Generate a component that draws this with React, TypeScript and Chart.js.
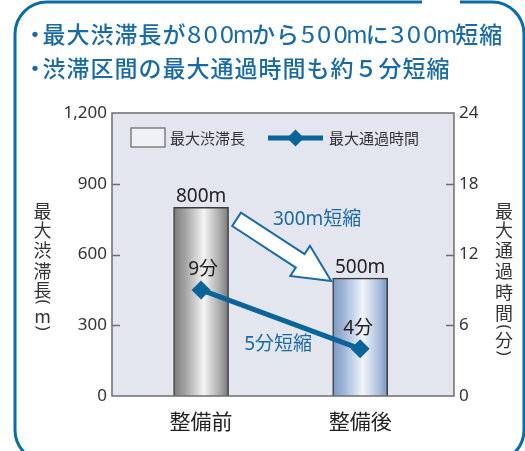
import { useEffect, useRef } from 'react';
import { Chart, registerables } from 'chart.js';

Chart.register(...registerables);

// ---- data ----
const categories = ['整備前', '整備後'];
const congestionLength = [800, 500]; // 最大渋滞長 (m)
const travelTime = [9, 4]; // 最大通過時間 (分)
const leftTicks = [0, 300, 600, 900, 1200];
const rightTicks = [0, 6, 12, 18, 24];
const titleLine1 = '最大渋滞長が800mから500mに300m短縮';
const titleLine2 = '渋滞区間の最大通過時間も約５分短縮';
const legendBarLabel = '最大渋滞長';
const legendLineLabel = '最大通過時間';
const leftAxisTitle = ['最', '大', '渋', '滞', '長', '(', 'm', ')'];
const rightAxisTitle = ['最', '大', '通', '過', '時', '間', '(', '分', ')'];
const arrowLabel = '300m短縮';
const lineLabel = '5分短縮';

const W = 525;
const H = 451;
const BLUE = '#1a6aa5';
const LINE_BLUE = '#0b6499';
const CJK = '"Noto Sans CJK JP"';
const NUM = '"Noto Sans", "Noto Sans CJK JP"';
const X_MIN = -0.56;
const X_MAX = 1.59;

function drawSpaced(ctx: CanvasRenderingContext2D, text: string, x: number, y: number, full: number, half: number) {
  let cx = x;
  const baseFont = ctx.font;
  for (const ch of Array.from(text)) {
    const isHalf = ch.charCodeAt(0) < 0x2000;
    const adv = isHalf ? half : full;
    ctx.save();
    ctx.translate(cx + adv / 2, y);
    if (isHalf && ch !== 'm') ctx.scale(1.12, 1);
    if (isHalf) ctx.font = `400 23px ${CJK}`;
    ctx.fillText(ch, 0, 0);
    ctx.font = baseFont;
    ctx.restore();
    cx += adv;
  }
}

function drawVertical(ctx: CanvasRenderingContext2D, chars: string[], ys: number[], x: number) {
  chars.forEach((ch, i) => {
    ctx.save();
    ctx.translate(x, ys[i]);
    if (ch === '(' || ch === ')') {
      ctx.rotate(Math.PI / 2);
      ctx.font = `17px ${NUM}`;
      ctx.fillText(ch, 0, 0);
    } else {
      ctx.fillText(ch, 0, 0);
    }
    ctx.restore();
  });
}

function roundRectPath(ctx: CanvasRenderingContext2D, x: number, y: number, w: number, h: number, r: number) {
  ctx.beginPath();
  ctx.moveTo(x + r, y);
  ctx.lineTo(x + w - r, y);
  ctx.arcTo(x + w, y, x + w, y + r, r);
  ctx.lineTo(x + w, y + h - r);
  ctx.arcTo(x + w, y + h, x + w - r, y + h, r);
  ctx.lineTo(x + r, y + h);
  ctx.arcTo(x, y + h, x, y + h - r, r);
  ctx.lineTo(x, y + r);
  ctx.arcTo(x, y, x + r, y, r);
  ctx.closePath();
}

const barStops = [
  ['#7c7c7c', '#a0a0a0', '#f4f4f4', '#a6a6a6', '#7a7a7a'],
  ['#7b98c3', '#9fb5d6', '#f2f5fa', '#a9bcda', '#7895c1'],
];

const decorPlugin = {
  id: 'decor',
  beforeDraw(chart: any) {
    const ctx: CanvasRenderingContext2D = chart.ctx;
    const ca = chart.chartArea;
    ctx.save();
    ctx.fillStyle = '#ffffff';
    ctx.fillRect(0, 0, W, H);
    // frame
    ctx.strokeStyle = '#0d6ba6';
    ctx.lineWidth = 3;
    roundRectPath(ctx, 15, 2, 509, 460, 32);
    ctx.stroke();
    ctx.fillStyle = '#ffffff';
    ctx.fillRect(422, 0, 38, 6);
    // title
    ctx.fillStyle = BLUE;
    ctx.textBaseline = 'middle';
    ctx.textAlign = 'center';
    ctx.font = `500 23px ${CJK}`;
    ctx.fillText('・', 35, 34);
    ctx.fillText('・', 35, 68);
    drawSpaced(ctx, titleLine1, 42, 34, 24, 16.4);
    drawSpaced(ctx, titleLine2, 42, 68, 24, 16.4);
    // plot background
    ctx.fillStyle = '#e4e6ef';
    ctx.fillRect(ca.left, ca.top, ca.right - ca.left, ca.bottom - ca.top);
    ctx.restore();
  },
  beforeDatasetsDraw(chart: any) {
    const ctx: CanvasRenderingContext2D = chart.ctx;
    chart.data.datasets.forEach((ds: any, di: number) => {
      if (ds.type !== 'bar') return;
      const meta = chart.getDatasetMeta(di);
      meta.data.forEach((el: any, i: number) => {
        const half = el.width / 2;
        if (!isFinite(el.x) || !isFinite(half)) return;
        const g = ctx.createLinearGradient(el.x - half, 0, el.x + half, 0);
        const s = barStops[i % barStops.length];
        g.addColorStop(0, s[0]);
        g.addColorStop(0.2, s[1]);
        g.addColorStop(0.55, s[2]);
        g.addColorStop(0.85, s[3]);
        g.addColorStop(1, s[4]);
        el.options = Object.assign({}, el.options, { backgroundColor: g });
      });
    });
  },
  afterDraw(chart: any) {
    const ctx: CanvasRenderingContext2D = chart.ctx;
    const ca = chart.chartArea;
    const xs = chart.scales.x;
    const ys = chart.scales.y;
    const y2 = chart.scales.y2;
    ctx.save();
    // plot frame
    ctx.strokeStyle = '#6e6e6e';
    ctx.lineWidth = 1.5;
    ctx.strokeRect(ca.left, ca.top, ca.right - ca.left, ca.bottom - ca.top);
    // inward tick marks
    ctx.beginPath();
    leftTicks.slice(1, -1).forEach((v) => {
      const py = Math.round(ys.getPixelForValue(v)) + 0.5;
      ctx.moveTo(ca.left, py);
      ctx.lineTo(ca.left + 8, py);
    });
    rightTicks.slice(1, -1).forEach((v) => {
      const py = Math.round(y2.getPixelForValue(v)) + 0.5;
      ctx.moveTo(ca.right - 8, py);
      ctx.lineTo(ca.right, py);
    });
    ctx.stroke();

    // legend
    const lx = ca.left + 19;
    const ly = ca.top + 25;
    ctx.fillStyle = '#eef0f6';
    ctx.fillRect(lx, ly - 10, 34, 19);
    ctx.strokeStyle = '#666';
    ctx.lineWidth = 1.2;
    ctx.strokeRect(lx, ly - 10, 34, 19);
    ctx.fillStyle = '#333';
    ctx.font = `15px ${CJK}`;
    ctx.textAlign = 'left';
    ctx.textBaseline = 'middle';
    ctx.fillText(legendBarLabel, lx + 39, ly);
    ctx.strokeStyle = LINE_BLUE;
    ctx.lineWidth = 5;
    ctx.beginPath();
    ctx.moveTo(lx + 137, ly);
    ctx.lineTo(lx + 192, ly);
    ctx.stroke();
    ctx.fillStyle = LINE_BLUE;
    ctx.beginPath();
    const dx = lx + 164.5;
    ctx.moveTo(dx, ly - 8.5);
    ctx.lineTo(dx + 8.5, ly);
    ctx.lineTo(dx, ly + 8.5);
    ctx.lineTo(dx - 8.5, ly);
    ctx.closePath();
    ctx.fill();
    ctx.fillStyle = '#333';
    ctx.fillText(legendLineLabel, lx + 198, ly);

    // axis titles (vertical)
    ctx.fillStyle = '#333';
    ctx.font = `18px ${CJK}`;
    ctx.textAlign = 'center';
    drawVertical(ctx, leftAxisTitle, [211, 230, 250, 271, 290, 302, 316, 328], 42.5);
    ctx.font = `18px ${CJK}`;
    drawVertical(ctx, rightAxisTitle, [211, 230, 250, 271, 292, 313, 327, 340, 353], 504);

    // arrow
    const x0 = xs.getPixelForValue(0);
    const x1 = xs.getPixelForValue(1);
    const tail = { x: x0 + 35.5, y: ys.getPixelForValue(congestionLength[0]) + 12 };
    const tip = { x: x1 - 29, y: ys.getPixelForValue(congestionLength[1]) + 3 };
    const len = Math.hypot(tip.x - tail.x, tip.y - tail.y);
    const ux = (tip.x - tail.x) / len;
    const uy = (tip.y - tail.y) / len;
    const nx = -uy;
    const ny = ux;
    const headLen = 37;
    const bx = tip.x - ux * headLen;
    const by = tip.y - uy * headLen;
    const sw = 8;
    const hw = 18;
    ctx.beginPath();
    ctx.moveTo(tail.x + nx * sw, tail.y + ny * sw);
    ctx.lineTo(bx + nx * sw, by + ny * sw);
    ctx.lineTo(bx + nx * hw, by + ny * hw);
    ctx.lineTo(tip.x, tip.y);
    ctx.lineTo(bx - nx * hw, by - ny * hw);
    ctx.lineTo(bx - nx * sw, by - ny * sw);
    ctx.lineTo(tail.x - nx * sw, tail.y - ny * sw);
    ctx.closePath();
    ctx.fillStyle = '#ffffff';
    ctx.fill();
    ctx.strokeStyle = BLUE;
    ctx.lineWidth = 2;
    ctx.lineJoin = 'miter';
    ctx.stroke();

    // value labels
    ctx.fillStyle = '#222';
    ctx.font = `19px ${NUM}`;
    ctx.textAlign = 'center';
    ctx.textBaseline = 'middle';
    ctx.fillText(`${congestionLength[0]}m`, x0, ys.getPixelForValue(congestionLength[0]) - 11);
    ctx.fillText(`${congestionLength[1]}m`, x1, ys.getPixelForValue(congestionLength[1]) - 10);
    ctx.fillText(`${travelTime[0]}分`, x0 + 2, y2.getPixelForValue(travelTime[0]) - 20);
    ctx.fillText(`${travelTime[1]}分`, x1 - 2, y2.getPixelForValue(travelTime[1]) - 20);
    ctx.fillStyle = BLUE;
    const mid = (x0 + x1) / 2;
    ctx.fillText(arrowLabel, mid + 36.5, ys.getPixelForValue(congestionLength[0]) + 12);
    ctx.fillText(lineLabel, mid - 2.5, y2.getPixelForValue(travelTime[1]) - 4);
    ctx.restore();
  },
};

export default function App() {
  const ref = useRef<HTMLCanvasElement | null>(null);
  useEffect(() => {
    if (!ref.current) return;
    const chart = new Chart(ref.current, {
      data: {
        datasets: [
          {
            type: 'line',
            label: legendLineLabel,
            data: travelTime.map((v, i) => ({ x: i, y: v })),
            xAxisID: 'x',
            yAxisID: 'y2',
            borderColor: LINE_BLUE,
            backgroundColor: LINE_BLUE,
            borderWidth: 5,
            pointStyle: 'rectRot',
            pointRadius: 9.5,
            pointBorderWidth: 0,
            pointBackgroundColor: LINE_BLUE,
            order: 0,
          },
          {
            type: 'bar',
            label: legendBarLabel,
            data: congestionLength.map((v, i) => ({ x: i, y: v })),
            xAxisID: 'x',
            yAxisID: 'y',
            barThickness: 55,
            borderColor: '#3c3c3c',
            borderWidth: 1.5,
            borderSkipped: 'bottom',
            backgroundColor: (c: any) => (c.dataIndex === 0 ? '#a0a0a0' : '#a9bcda'),
            order: 1,
          },
        ] as any,
      },
      options: {
        responsive: false,
        animation: false,
        events: [],
        layout: { padding: { top: 113, left: 0, right: 0, bottom: 0 } },
        plugins: { legend: { display: false }, tooltip: { enabled: false } },
        scales: {
          x: {
            type: 'linear',
            min: X_MIN,
            max: X_MAX,
            offset: false,
            bounds: 'data',
            afterDataLimits: (s: any) => {
              s.min = X_MIN;
              s.max = X_MAX;
            },
            afterBuildTicks: (s: any) => {
              s.ticks = categories.map((_, i) => ({ value: i }));
              s.min = X_MIN;
              s.max = X_MAX;
            },
            afterFit: (s: any) => {
              s.height = 55;
            },
            ticks: {
              callback: (v: any) => categories[v] ?? '',
              font: { family: CJK, size: 21 },
              color: '#222',
              padding: 12,
              autoSkip: false,
              maxRotation: 0,
            },
            grid: { display: false, drawTicks: false, offset: false },
            border: { display: false },
          },
          y: {
            position: 'left',
            min: 0,
            max: 1200,
            afterBuildTicks: (s: any) => {
              s.ticks = leftTicks.map((v) => ({ value: v }));
            },
            afterFit: (s: any) => {
              s.width = 112;
            },
            ticks: {
              callback: (v: any) => Number(v).toLocaleString('en-US'),
              font: { family: NUM, size: 17 },
              color: '#333',
              padding: 5,
            },
            grid: { display: false, drawTicks: false },
            border: { display: false },
          },
          y2: {
            position: 'right',
            min: 0,
            max: 24,
            afterBuildTicks: (s: any) => {
              s.ticks = rightTicks.map((v) => ({ value: v }));
            },
            afterFit: (s: any) => {
              s.width = 71;
            },
            ticks: {
              font: { family: NUM, size: 17 },
              color: '#333',
              padding: 5,
            },
            grid: { display: false, drawTicks: false },
            border: { display: false },
          },
        },
      } as any,
      plugins: [decorPlugin],
    });
    return () => chart.destroy();
  }, []);
  return (
    <div style={{ position: 'fixed', left: 0, top: 0, width: W, height: H, background: '#fff' }}>
      <canvas ref={ref} width={W} height={H} style={{ display: 'block', width: W, height: H }} />
    </div>
  );
}
